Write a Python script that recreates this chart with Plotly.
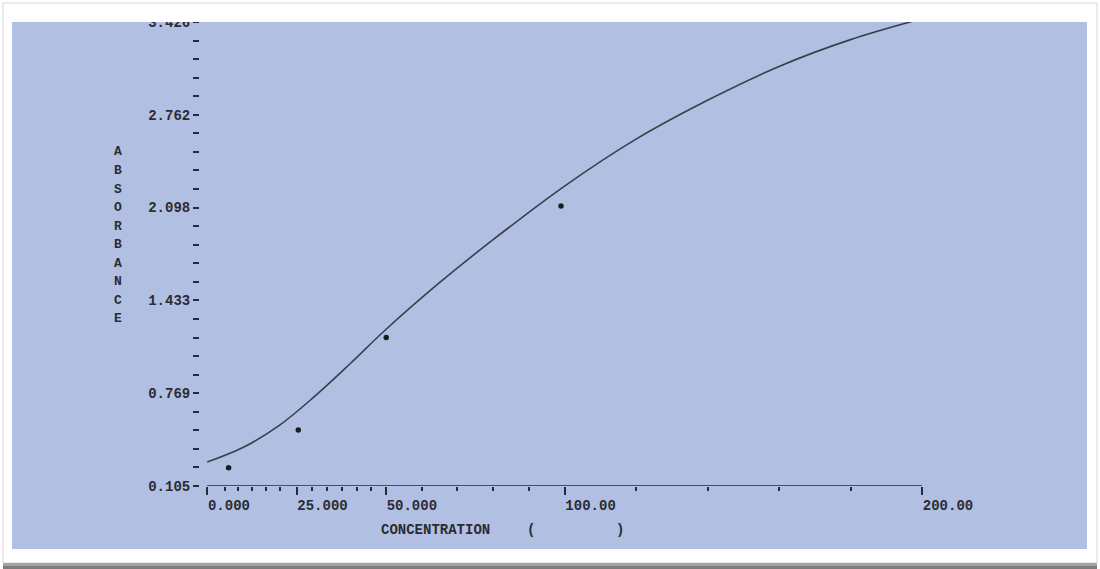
import plotly.graph_objects as go

# ---------------- data ----------------
curve_x = [0, 10, 20, 30, 40, 50, 65, 80, 100, 120, 140, 160, 180, 200]
curve_y = [0.276, 0.380, 0.535, 0.745, 0.980, 1.225, 1.560, 1.868, 2.252,
           2.588, 2.866, 3.108, 3.300, 3.450]

std_x = [6.0, 25.5, 50.1, 99.0]
std_y = [0.236, 0.505, 1.167, 2.109]

x_major = [0, 25, 50, 100, 200]
x_major_text = ["0.000", "25.000", "50.000", "100.00", "200.00"]
x_minor = [5, 8.75, 12.5, 16.5, 20.5, 29.4, 33.6, 37.8, 42.0, 45.8,
           60, 70, 80, 90, 120, 140, 160, 180]

y_major = [0.105, 0.769, 1.433, 2.098, 2.762, 3.426]
y_major_text = ["0.105", "0.769", "1.433", "2.098", "2.762", "3.426"]

y_title = "ABSORBANCE"
x_title = "CONCENTRATION"

# ---------------- layout helpers ----------------
W, H = 1100, 569
PL, PR, PT, PB = 200, 922, 22, 486


def fx(px):
    return (px - PL) / (PR - PL)


def fy(py):
    return (PB - py) / (PB - PT)


MONO = "Liberation Mono"
INK = "#2a2b33"
PANEL = "#b1c0e2"

fig = go.Figure()
fig.add_trace(go.Scatter(
    x=curve_x, y=curve_y, mode="lines",
    line=dict(color="#3b3e4a", width=1.6, shape="spline", smoothing=1.0),
    hoverinfo="skip"))
fig.add_trace(go.Scatter(
    x=std_x, y=std_y, mode="markers",
    marker=dict(color="#1b1c22", size=5.5, symbol="circle"),
    hoverinfo="skip"))

ystep = (y_major[-1] - y_major[0]) / 25.0

shapes = [
    dict(type="rect", xref="paper", yref="paper", x0=fx(12), x1=fx(1087),
         y0=fy(549), y1=fy(22), fillcolor=PANEL, line=dict(width=0), layer="below"),
    dict(type="line", xref="x", yref="y", x0=x_major[0], x1=x_major[-1],
         y0=y_major[0], y1=y_major[0], line=dict(color=INK, width=1.6), layer="above"),
    dict(type="rect", xref="paper", yref="paper", x0=fx(0), x1=fx(W),
         y0=fy(22), y1=fy(0), fillcolor="white", line=dict(width=0), layer="above"),
    dict(type="rect", xref="paper", yref="paper", x0=fx(3), x1=fx(1097),
         y0=fy(563), y1=fy(3), fillcolor="rgba(0,0,0,0)",
         line=dict(color="#d6d6d6", width=1), layer="above"),
    dict(type="rect", xref="paper", yref="paper", x0=fx(3), x1=fx(1097),
         y0=fy(569), y1=fy(563), fillcolor="#a3a3a3",
         line=dict(width=0), layer="above"),
    dict(type="rect", xref="paper", yref="paper", x0=fx(3), x1=fx(1097),
         y0=fy(569), y1=fy(566), fillcolor="#7d7d7d",
         line=dict(width=0), layer="above"),
]

annotations = []
for i, ch in enumerate(y_title):
    k = 18 - i
    annotations.append(dict(
        text=ch, xref="paper", yref="y", x=fx(118), y=y_major[0] + k * ystep,
        xanchor="center", yanchor="middle", showarrow=False,
        font=dict(family=MONO, size=13, color=INK, weight="bold")))
for txt, px in [(x_title, 435), ("(", 531), (")", 620)]:
    annotations.append(dict(
        text=txt, xref="paper", yref="paper", x=fx(px), y=fy(530),
        xanchor="center", yanchor="middle", showarrow=False,
        font=dict(family=MONO, size=14, color=INK, weight="bold")))

fig.update_layout(
    width=W, height=H,
    margin=dict(l=PL, r=W - PR, t=PT, b=H - PB, pad=0),
    paper_bgcolor="white", plot_bgcolor="rgba(0,0,0,0)",
    showlegend=False,
    shapes=shapes, annotations=annotations,
    xaxis=dict(
        range=[-2, 200.0001], showgrid=False, zeroline=False, showline=False,
        tickmode="array", tickvals=x_major, ticktext=x_major_text,
        ticks="outside", ticklen=8, tickwidth=1.6, tickcolor=INK,
        ticklabelposition="outside right", ticklabelstandoff=6,
        tickfont=dict(family=MONO, size=14, color=INK, weight="bold"),
        minor=dict(tickmode="array", tickvals=x_minor, ticks="outside",
                   ticklen=4, tickwidth=2, tickcolor=INK),
    ),
    yaxis=dict(
        range=[0.1049, 3.4261], showgrid=False, zeroline=False, showline=False,
        tickmode="array", tickvals=y_major, ticktext=y_major_text,
        ticks="outside", ticklen=6, tickwidth=2, tickcolor=INK,
        tickfont=dict(family=MONO, size=14, color=INK, weight="bold"),
        minor=dict(tickmode="linear", tick0=y_major[0], dtick=ystep,
                   ticks="outside", ticklen=6, tickwidth=2, tickcolor=INK),
    ),
)

fig.write_html("out.html")
